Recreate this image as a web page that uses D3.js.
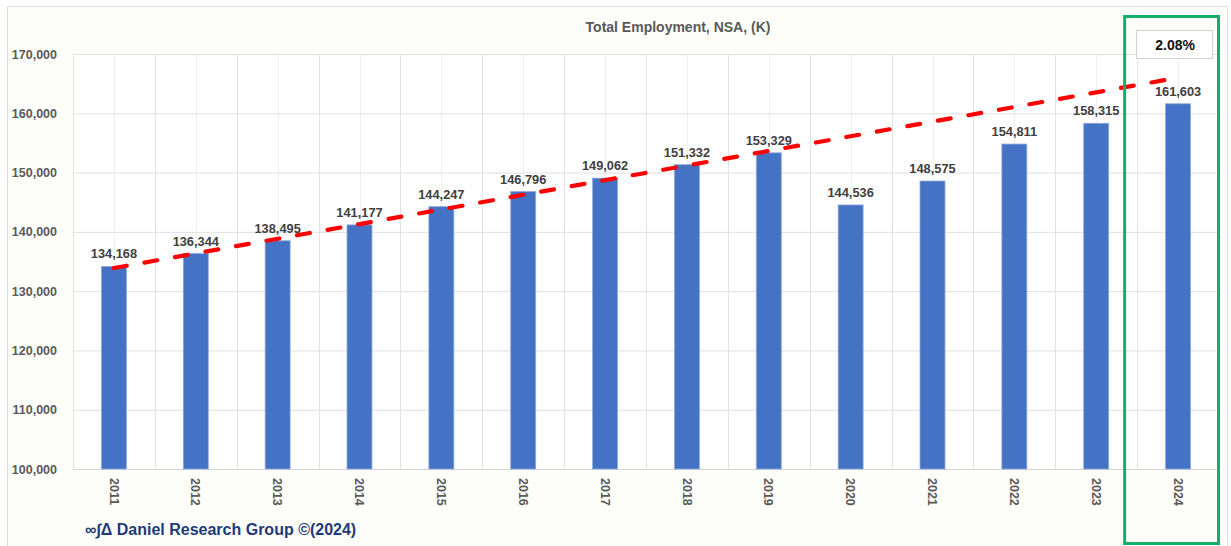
<!DOCTYPE html>
<html>
<head>
<meta charset="utf-8">
<script src="https://cdn.jsdelivr.net/npm/d3@7"></script>
<style>
  html, body { margin: 0; padding: 0; background: #ffffff; }
  svg { display: block; }
  text { font-family: "Liberation Sans", Arial, sans-serif; }
</style>
</head>
<body>
<svg id="chart" width="1231" height="546"></svg>
<script>
// ---- data ----
const years = ["2011","2012","2013","2014","2015","2016","2017","2018","2019","2020","2021","2022","2023","2024"];
const employment = [134168,136344,138495,141177,144247,146796,149062,151332,153329,144536,148575,154811,158315,161603];
const yTicks = [100000,110000,120000,130000,140000,150000,160000,170000];
const trendYears = ["2011","2024"];
const trendValues = [133900,166000];
const title = "Total Employment, NSA, (K)";
const growthLabel = "2.08%";
const highlightYear = "2024";
const footer = "\u221E\u222B\u0394 Daniel Research Group \u00A9(2024)";

// ---- layout ----
const W = 1231, H = 546;
const plot = { left: 73, right: 1219, top: 54, bottom: 469 };
const svg = d3.select("#chart");

svg.append("rect").attr("x", 7.5).attr("y", 6.5).attr("width", 1220).attr("height", 560)
  .attr("fill", "#fdfdfa").attr("stroke", "#dcdcdc").attr("stroke-width", 1);

const x = d3.scaleBand().domain(years).range([plot.left, plot.right]).paddingInner(0).paddingOuter(0);
const y = d3.scaleLinear().domain([100000, 170000]).range([plot.bottom, plot.top]);
const bw = x.bandwidth();
const barW = bw * 0.305;

// white plot background
svg.append("rect").attr("x", plot.left).attr("y", plot.top)
  .attr("width", plot.right - plot.left).attr("height", plot.bottom - plot.top).attr("fill", "#ffffff");

// vertical gridlines: category boundaries + mid lines
const g = svg.append("g");
years.forEach((yr, i) => {
  const x0 = x(yr);
  g.append("line").attr("x1", Math.round(x0) + 0.5).attr("x2", Math.round(x0) + 0.5)
    .attr("y1", plot.top).attr("y2", plot.bottom).attr("stroke", "#e3e3e3").attr("stroke-width", 1);
  g.append("line").attr("x1", Math.round(x0 + bw / 2) + 0.5).attr("x2", Math.round(x0 + bw / 2) + 0.5)
    .attr("y1", plot.top).attr("y2", plot.bottom).attr("stroke", "#efefef").attr("stroke-width", 1);
});
g.append("line").attr("x1", plot.right + 0.5).attr("x2", plot.right + 0.5)
  .attr("y1", plot.top).attr("y2", plot.bottom).attr("stroke", "#e3e3e3");

// horizontal gridlines via axis
const yAxis = d3.axisLeft(y).tickValues(yTicks).tickSize(-(plot.right - plot.left))
  .tickFormat(d3.format(","));
const ya = svg.append("g").attr("transform", `translate(${plot.left},0)`).call(yAxis);
ya.select(".domain").remove();
ya.selectAll(".tick line").attr("stroke", "#e0e0e0").attr("stroke-width", 1);
ya.selectAll(".tick text").attr("x", -16).attr("fill", "#595959")
  .style("font-size", "12.5px").style("font-weight", "bold")
  .style("font-family", "'Liberation Sans', Arial, sans-serif");

// baseline
svg.append("line").attr("x1", plot.left).attr("x2", plot.right)
  .attr("y1", plot.bottom + 0.5).attr("y2", plot.bottom + 0.5).attr("stroke", "#d4d4d4");

// bars
svg.append("g").selectAll("rect").data(years).join("rect")
  .attr("x", (d) => x(d) + bw / 2 - barW / 2)
  .attr("y", (d, i) => y(employment[i]))
  .attr("width", barW)
  .attr("height", (d, i) => y(100000) - y(employment[i]))
  .attr("fill", "#4472c4")
  .attr("stroke", "#8eaadb").attr("stroke-width", 0.8);

// value labels
svg.append("g").selectAll("text").data(years).join("text")
  .attr("x", (d) => x(d) + bw / 2)
  .attr("y", (d, i) => y(employment[i]) - 8)
  .attr("text-anchor", "middle")
  .attr("fill", "#404040")
  .style("font-size", "12.8px").style("font-weight", "bold")
  .text((d, i) => d3.format(",")(employment[i]));

// x axis labels (rotated)
const xAxis = d3.axisBottom(x).tickSize(0);
const xa = svg.append("g").attr("transform", `translate(0,${plot.bottom})`).call(xAxis);
xa.select(".domain").remove();
xa.selectAll(".tick text")
  .attr("transform", "translate(0,9) rotate(90)")
  .attr("x", 0).attr("y", 0).attr("dy", "0.35em")
  .attr("text-anchor", "start")
  .attr("fill", "#595959")
  .style("font-size", "12.5px").style("font-weight", "bold")
  .style("font-family", "'Liberation Sans', Arial, sans-serif");

// trend line
const line = d3.line().x((d) => x(d[0]) + bw / 2).y((d) => y(d[1]));
svg.append("path").datum(trendYears.map((yr, i) => [yr, trendValues[i]]))
  .attr("d", line).attr("fill", "none").attr("stroke", "#ff0000")
  .attr("stroke-width", 4.2).attr("stroke-dasharray", "13,18").attr("stroke-linecap", "round");

// title
svg.append("text").attr("x", 678).attr("y", 32).attr("text-anchor", "middle")
  .attr("fill", "#595959").style("font-size", "14px").style("font-weight", "bold")
  .text(title);

// highlight box
const hx = x(highlightYear);
svg.append("rect").attr("x", hx - 12.5).attr("y", 16.5).attr("width", bw + 12).attr("height", 527)
  .attr("fill", "none").attr("stroke", "#10b06c").attr("stroke-width", 3);

// growth label
svg.append("rect").attr("x", hx - 0.5).attr("y", 30.5).attr("width", 76).attr("height", 28)
  .attr("fill", "#ffffff").attr("stroke", "#d0d0d0").attr("stroke-width", 1);
svg.append("text").attr("x", hx + 38).attr("y", 49.5).attr("text-anchor", "middle")
  .attr("fill", "#111111").style("font-size", "14px").style("font-weight", "bold")
  .text(growthLabel);

// footer
svg.append("text").attr("x", 85).attr("y", 535).attr("fill", "#1f3a78")
  .style("font-size", "16px").style("font-weight", "bold")
  .text(footer);
</script>
</body>
</html>
